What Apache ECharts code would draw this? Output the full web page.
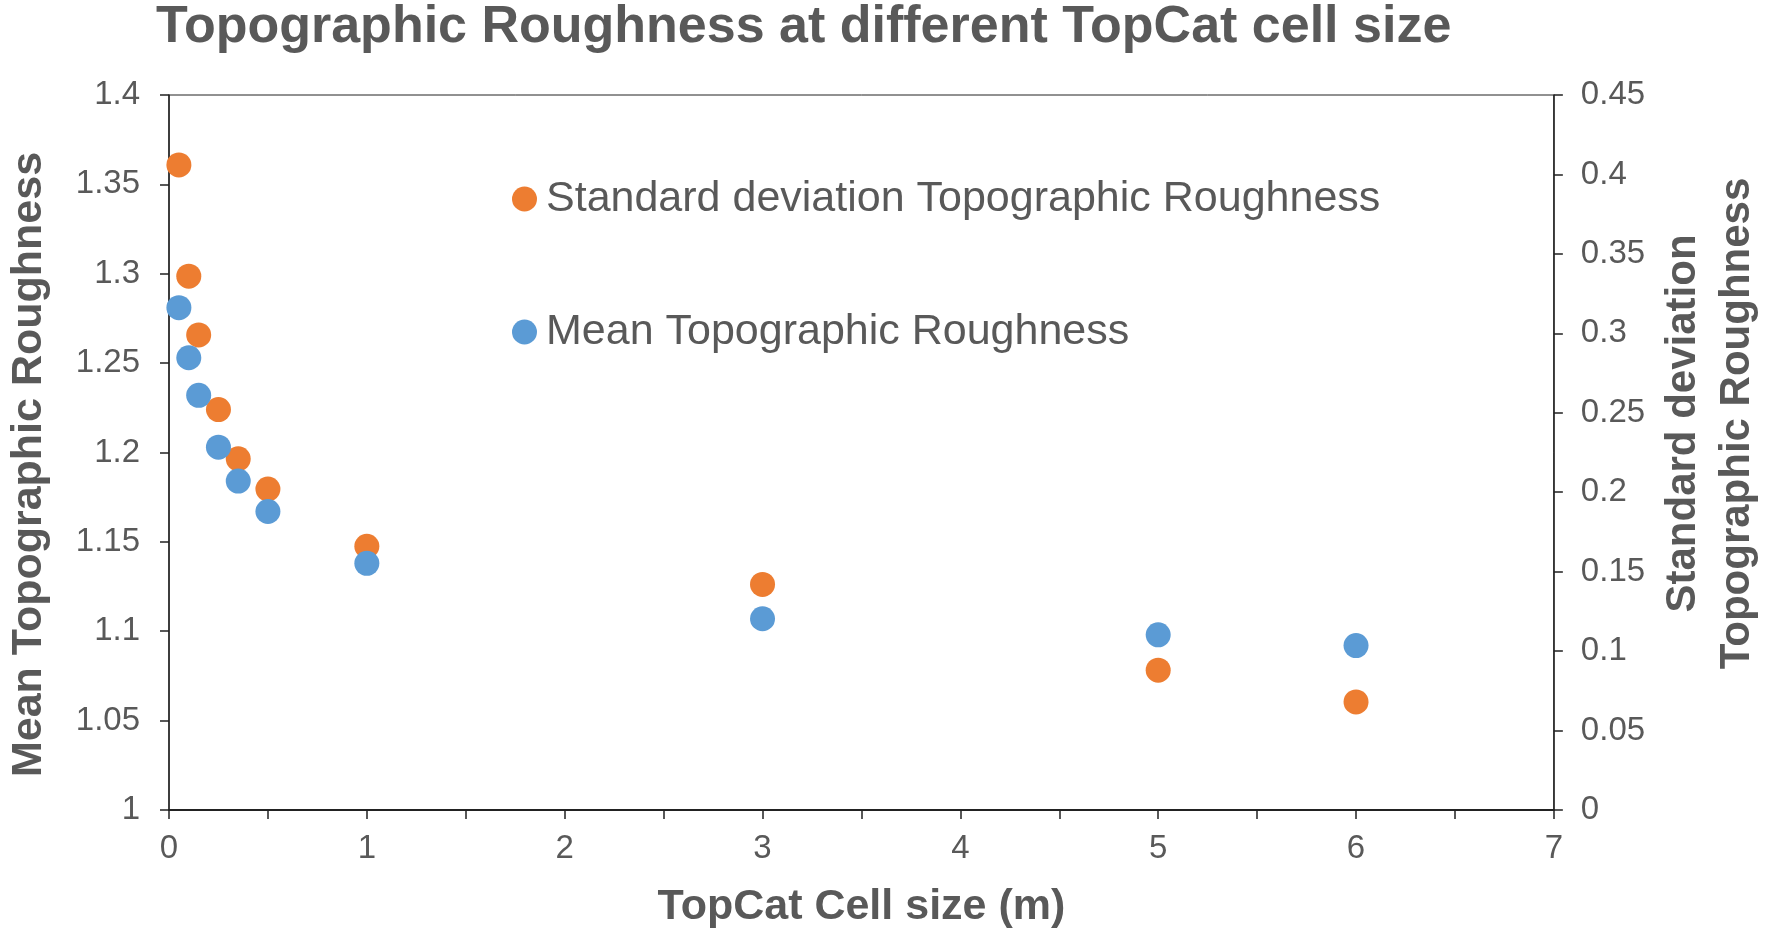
<!DOCTYPE html>
<html>
<head>
<meta charset="utf-8">
<script src="https://cdn.jsdelivr.net/npm/echarts@6/dist/echarts.min.js"></script>
<style>
  html, body { margin: 0; padding: 0; background: #fff; }
  #chart { width: 1772px; height: 941px; }
</style>
</head>
<body>
<div id="chart"></div>
<script>
var cellSize = [0.05, 0.1, 0.15, 0.25, 0.35, 0.5, 1, 3, 5, 6]
var meanRough = [1.281, 1.253, 1.232, 1.203, 1.184, 1.167, 1.138, 1.107, 1.098, 1.092]
var sdRough = [0.406, 0.336, 0.299, 0.252, 0.221, 0.202, 0.166, 0.142, 0.088, 0.068]

var textColor = '#595959'
var font = 'Liberation Sans, Arial, sans-serif'

function pairs(xs, ys) {
    var out = []
    for (var i = 0; i < xs.length; i++) {
        out.push([xs[i], ys[i]])
    }
    return out
}

var myChart = echarts.init(document.getElementById('chart'))
var option = {
    backgroundColor: '#fff',
    textStyle: { fontFamily: font },
    title: {
        text: 'Topographic Roughness at different TopCat cell size',
        left: 156,
        top: 2,
        padding: 0,
        textStyle: { fontSize: 52, fontWeight: 'bold', color: textColor, fontFamily: font }
    },
    legend: {
        orient: 'vertical',
        left: 507,
        top: 169,
        icon: 'circle',
        itemWidth: 25,
        itemHeight: 25,
        itemGap: 83,
        textStyle: { fontSize: 43, color: textColor, lineHeight: 50, fontFamily: font, padding: [0, 0, 0, 4] },
        data: ['Standard deviation Topographic Roughness', 'Mean Topographic Roughness']
    },
    grid: {
        left: 164,
        right: 210,
        top: 95,
        bottom: 131,
        show: true,
        borderColor: '#222',
        borderWidth: 1
    },
    xAxis: {
        type: 'value',
        min: 0,
        max: 7,
        interval: 0.5,
        name: 'TopCat Cell size (m)',
        nameLocation: 'middle',
        nameGap: 76,
        nameTextStyle: { fontSize: 43, fontWeight: 'bold', color: textColor, fontFamily: font },
        axisLine: { lineStyle: { color: '#222', width: 2 } },
        axisTick: { length: 9, lineStyle: { color: '#222', width: 1.5 } },
        axisLabel: {
            fontSize: 33,
            color: textColor,
            margin: 22,
            formatter: function (v) { return v % 1 === 0 ? String(v) : '' }
        },
        splitLine: { show: false }
    },
    yAxis: [
        {
            type: 'value',
            min: 1,
            max: 1.4,
            interval: 0.05,
            name: 'Mean Topographic Roughness',
            nameLocation: 'middle',
            nameRotate: 90,
            nameGap: 118,
            nameTextStyle: { fontSize: 43, fontWeight: 'bold', color: textColor, fontFamily: font, padding: [0, 24, 0, 0] },
            axisLine: { show: true, lineStyle: { color: '#222', width: 1.5 } },
            axisTick: { show: true, length: 9, lineStyle: { color: '#222', width: 1.5 } },
            axisLabel: { fontSize: 33, color: textColor, margin: 29 },
            splitLine: { show: false }
        },
        {
            type: 'value',
            position: 'right',
            min: 0,
            max: 0.45,
            interval: 0.05,
            name: 'Standard deviation\nTopographic Roughness',
            nameLocation: 'middle',
            nameRotate: 90,
            nameGap: 98,
            nameTextStyle: { fontSize: 42, fontWeight: 'bold', color: textColor, lineHeight: 54, fontFamily: font, padding: [0, 0, 0, 58] },
            axisLine: { show: true, lineStyle: { color: '#222', width: 1.5 } },
            axisTick: { show: true, length: 9, lineStyle: { color: '#222', width: 1.5 } },
            axisLabel: { fontSize: 33, color: textColor, margin: 27 },
            splitLine: { show: false }
        }
    ],
    series: [
        {
            name: 'Standard deviation Topographic Roughness',
            type: 'scatter',
            yAxisIndex: 1,
            symbolSize: 25,
            itemStyle: { color: '#ED7D31', opacity: 1 },
            data: pairs(cellSize, sdRough)
        },
        {
            name: 'Mean Topographic Roughness',
            type: 'scatter',
            yAxisIndex: 0,
            symbolSize: 25,
            itemStyle: { color: '#5B9BD5', opacity: 1 },
            data: pairs(cellSize, meanRough)
        }
    ]
}
myChart.setOption(option)
</script>
</body>
</html>
